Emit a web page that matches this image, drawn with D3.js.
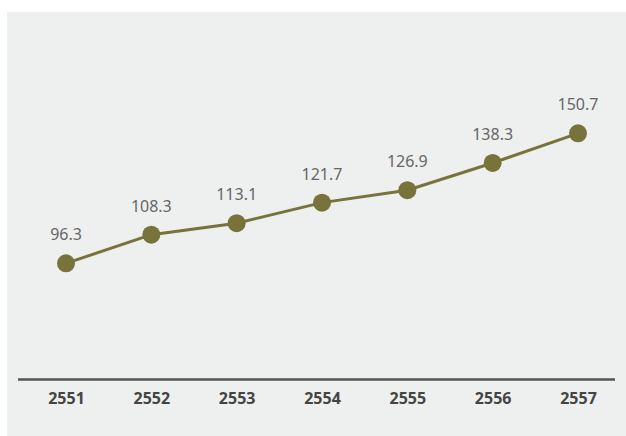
<!DOCTYPE html>
<html>
<head>
<meta charset="utf-8">
<script src="https://cdn.jsdelivr.net/npm/d3@7"></script>
<style>
  body { margin: 0; background: #fff; }
  text { font-family: "Noto Sans", "Open Sans", sans-serif; }
</style>
</head>
<body>
<svg id="svg" width="626" height="436"></svg>
<script>
var years = ["2551", "2552", "2553", "2554", "2555", "2556", "2557"];
var values = [96.3, 108.3, 113.1, 121.7, 126.9, 138.3, 150.7];

var width = 626,
    height = 436;

var svg = d3.select("svg");

// grey panel behind everything
svg.append("rect")
  .attr("x", 7).attr("y", 12)
  .attr("width", width - 7).attr("height", height - 12)
  .attr("fill", "#eef0ef");

var x = d3.scalePoint()
  .domain(years)
  .range([66, 578]);

var y = d3.scaleLinear()
  .domain([50, 150])
  .range([374, 135]);

var baseY = 379.5;

// x axis line + labels
var xAxis = d3.axisBottom(x).tickSize(0).tickPadding(13);
var gx = svg.append("g")
  .attr("transform", "translate(0," + baseY + ")")
  .call(xAxis);
gx.select(".domain").remove();
gx.selectAll("text")
  .attr("font-size", 16)
  .attr("font-weight", "bold")
  .attr("fill", "#444")
  .style("font-family", "'Noto Sans', 'Open Sans', sans-serif");

svg.append("line")
  .attr("x1", 18).attr("x2", 615)
  .attr("y1", baseY).attr("y2", baseY)
  .attr("stroke", "#555")
  .attr("stroke-width", 2.5);

var data = years.map(function(d, i) { return { year: d, value: values[i] }; });

var line = d3.line()
  .x(function(d) { return x(d.year); })
  .y(function(d) { return y(d.value); });

svg.append("path")
  .datum(data)
  .attr("d", line)
  .attr("fill", "none")
  .attr("stroke", "#77733a")
  .attr("stroke-width", 3);

svg.selectAll("circle")
  .data(data)
.enter().append("circle")
  .attr("cx", function(d) { return x(d.year); })
  .attr("cy", function(d) { return y(d.value); })
  .attr("r", 9)
  .attr("fill", "#77733a");

svg.selectAll(".val")
  .data(data)
.enter().append("text")
  .attr("class", "val")
  .attr("x", function(d) { return x(d.year); })
  .attr("y", function(d) { return y(d.value) - 23; })
  .attr("text-anchor", "middle")
  .attr("font-size", 16)
  .attr("fill", "#666")
  .text(function(d) { return d.value.toFixed(1); });
</script>
</body>
</html>
